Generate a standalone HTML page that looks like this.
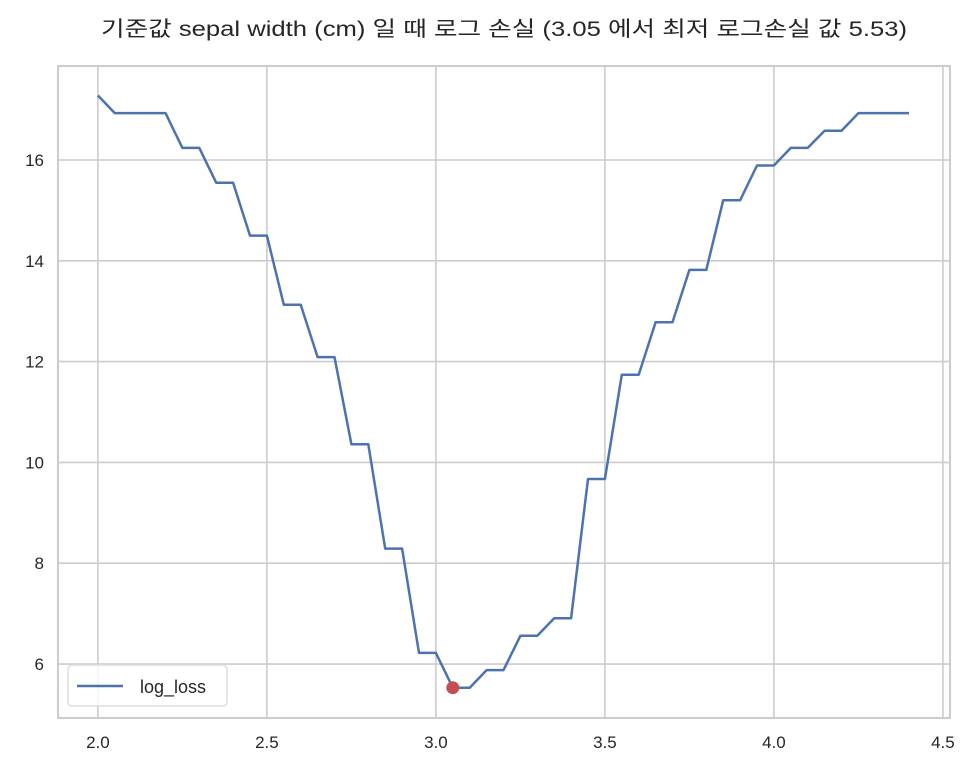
<!DOCTYPE html>
<html><head><meta charset="utf-8"><style>
body{margin:0;background:#fff;}
svg text{font-family:"Liberation Sans","Noto Sans CJK KR",sans-serif;fill:#262626;}
</style></head><body>
<svg id="chart" width="972" height="774" xmlns="http://www.w3.org/2000/svg">
<text x="504" y="36" text-anchor="middle" font-size="21" textLength="806" lengthAdjust="spacingAndGlyphs">기준값 sepal width (cm) 일 때 로그 손실 (3.05 에서 최저 로그손실 값 5.53)</text>
<g id="grid"></g>
<rect x="58" y="66" width="892" height="652" fill="none" stroke="#ccc" stroke-width="2"/>
<g id="series"></g>
<g id="ticks"></g>
<g>
<rect x="68" y="665" width="159" height="41" rx="4" fill="#fff" fill-opacity="0.8" stroke="#ddd" stroke-width="1.5"/>
<line x1="77" y1="686" x2="123" y2="686" stroke="#4c72b0" stroke-width="2.5"/>
<text x="140" y="693" font-size="18">log_loss</text>
</g>
</svg>
<script>
const xValues=[2.00,2.05,2.10,2.15,2.20,2.25,2.30,2.35,2.40,2.45,2.50,2.55,2.60,2.65,2.70,2.75,2.80,2.85,2.90,2.95,3.00,3.05,3.10,3.15,3.20,3.25,3.30,3.35,3.40,3.45,3.50,3.55,3.60,3.65,3.70,3.75,3.80,3.85,3.90,3.95,4.00,4.05,4.10,4.15,4.20,4.25,4.30,4.35,4.40];
const logLoss=[17.28,16.93,16.93,16.93,16.93,16.24,16.24,15.55,15.55,14.50,14.50,13.13,13.13,12.09,12.09,10.36,10.36,8.29,8.29,6.22,6.22,5.53,5.53,5.88,5.88,6.56,6.56,6.91,6.91,9.67,9.67,11.74,11.74,12.78,12.78,13.82,13.82,15.20,15.20,15.89,15.89,16.24,16.24,16.58,16.58,16.93,16.93,16.93,16.93];
const minPoint=[3.05,5.53];
const xTicks=[2.0,2.5,3.0,3.5,4.0,4.5];
const xTickLabels=["2.0","2.5","3.0","3.5","4.0","4.5"];
const yTicks=[6,8,10,12,14,16];
const yTickLabels=["6","8","10","12","14","16"];

const NS="http://www.w3.org/2000/svg";
const X0=58,X1=950,Y0=718,Y1=66;
const xMin=1.882,xMax=4.521,yMin=4.929,yMax=17.865;
const sx=v=>X0+(v-xMin)/(xMax-xMin)*(X1-X0);
const sy=v=>Y0-(v-yMin)/(yMax-yMin)*(Y0-Y1);
function mk(tag,attrs,parent){const e=document.createElementNS(NS,tag);for(const k in attrs)e.setAttribute(k,attrs[k]);parent.appendChild(e);return e;}
const grid=document.getElementById('grid'),ticks=document.getElementById('ticks'),series=document.getElementById('series');
xTicks.forEach((t,i)=>{
 const l=mk('line',{x1:sx(t),x2:sx(t),y1:Y1,y2:Y0,stroke:'#ccc','stroke-width':1.6},grid);
 
 
 const tx=mk('text',{x:sx(t),y:Y0+30,'text-anchor':'middle','font-size':17},ticks);
 tx.textContent=xTickLabels[i];
 
 
});
yTicks.forEach((t,i)=>{
 const l=mk('line',{x1:X0,x2:X1,y1:sy(t),y2:sy(t),stroke:'#ccc','stroke-width':1.6},grid);
 
 
 const tx=mk('text',{x:X0-14,y:sy(t)+6,'text-anchor':'end','font-size':17},ticks);
 tx.textContent=yTickLabels[i];
 
 
});
const pts=xValues.map((x,i)=>sx(x).toFixed(1)+','+sy(logLoss[i]).toFixed(1)).join(' ');
const pl=mk('polyline',{points:pts,fill:'none',stroke:'#4c72b0','stroke-width':2.5,'stroke-linejoin':'round'},series);


const c=mk('circle',{cx:sx(minPoint[0]),cy:sy(minPoint[1]),r:6.5,fill:'#c44e52'},series);


</script>
</body></html>
